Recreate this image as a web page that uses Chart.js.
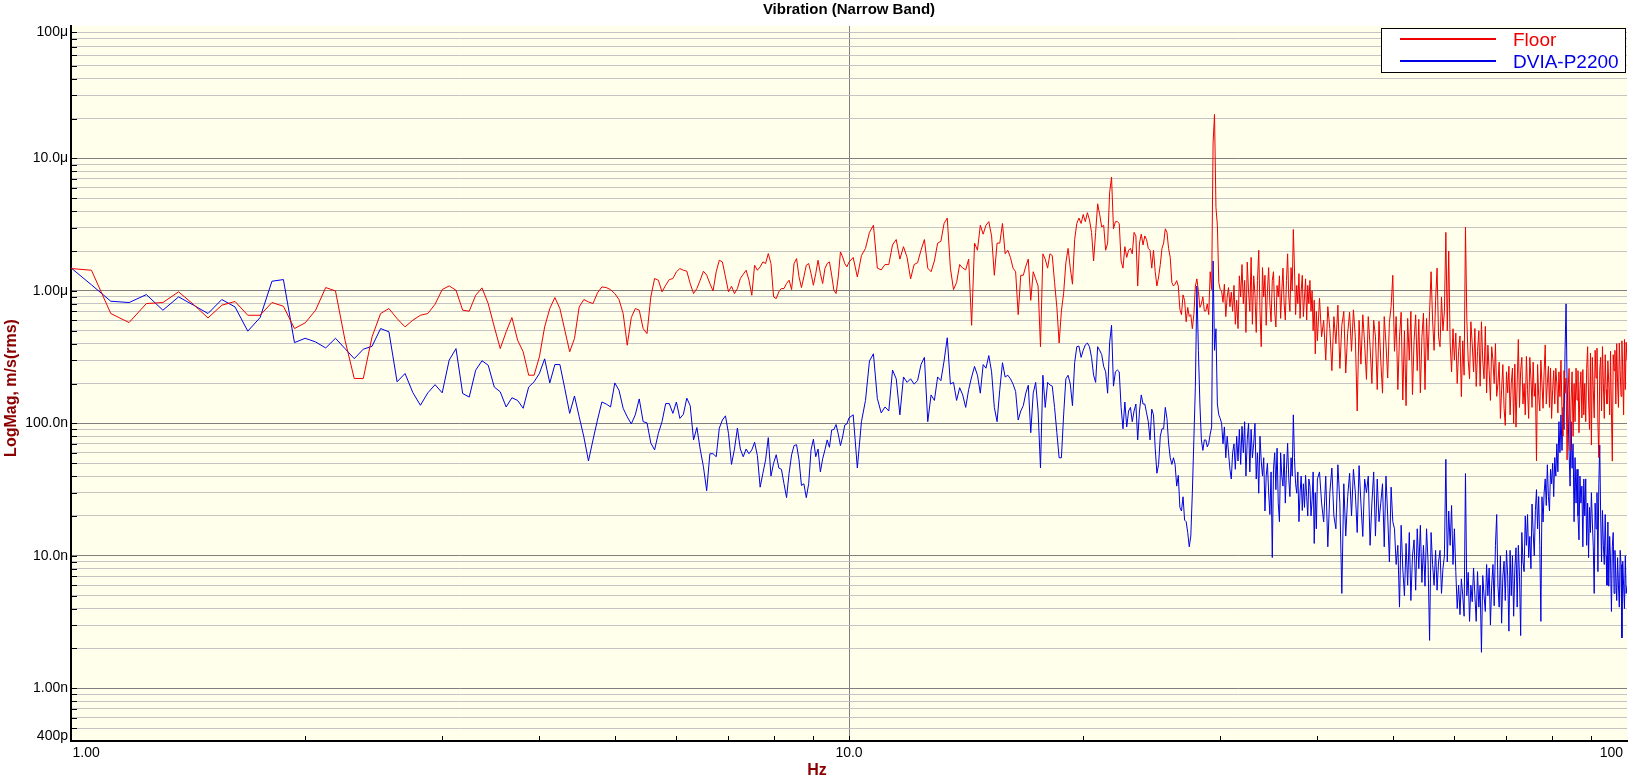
<!DOCTYPE html>
<html>
<head>
<meta charset="utf-8">
<title>Vibration (Narrow Band)</title>
<script src="https://cdn.jsdelivr.net/npm/chart.js@4.4.1/dist/chart.umd.min.js"></script>
<style>
  html, body { margin: 0; padding: 0; background: #fff; }
  #wrap { width: 1632px; height: 776px; }
</style>
</head>
<body>
<div id="wrap"><canvas id="vib" width="1632" height="776"></canvas></div>
<script>
// FFT bins: each band starts at bandStart with a fixed spacing (Hz)
const bandStart = [1.0, 10.125, 20.125, 30.125, 40.25];
const bandStep = [0.0625, 0.125, 0.125, 0.125, 0.25];

// Floor, nm/s rms
const floorBand1 = [
  1476, 1432, 675, 577, 803, 817, 984, 789, 625, 780, 832, 655, 655, 817, 766, 520,
  574, 715, 1060, 1000, 425, 218, 218, 450, 675, 736, 618, 535, 601, 655, 675, 794,
  1023, 1091, 1012, 715, 703, 927, 1054, 803, 535, 367, 491, 629, 425, 347, 231, 231,
  318, 535, 736, 891, 736, 505, 347, 437, 757, 861, 826, 803, 966, 1072, 1060, 1023,
  955, 861, 675, 389, 629, 736, 715, 520, 476, 901, 1240, 1205, 984, 1104, 1218, 1240,
  1393, 1476, 1432, 1409, 1137, 955, 1042, 1205, 1409, 1315, 1137, 1000, 1393, 1705, 1656, 1277,
  984, 1084, 955, 1042, 1240, 1337, 1432, 1205, 927, 1563, 1432, 1518, 1656, 1610, 1914, 1610,
  901, 875, 984, 1042, 1042, 1137, 1205, 1023, 1610, 1754, 1277, 1060, 1277, 1563, 1610, 1352,
  1104, 1352, 1705, 1352, 1137, 1476, 1610, 1656, 1315, 1012, 955, 1277, 1971, 1807, 1610, 1518,
  1650
];
const floorBand2 = [
  1790, 1274, 1849, 2094, 2767, 3133, 1486, 1442,
  1581, 1581, 2224, 2443, 1738, 2158, 1791, 1233,
  1581, 1633, 2028, 2443, 1486, 1396, 1683, 2296,
  2366, 3231, 3548, 1486, 1023, 1159, 1581, 1486,
  1442, 1738, 550, 2296, 2028, 3133, 2681, 3133,
  3334, 2600, 1312, 2296, 2296, 3231, 1905, 2028,
  1791, 1486, 1396, 662, 1312, 1312, 1535, 1738,
  849, 1396, 1233, 1089, 379, 1905, 1738, 1486,
  1905, 1849, 1159, 750, 404, 705, 962, 1633,
  2094, 1486, 1124, 2443, 3231, 3548, 3231, 3775
];
const floorBand3 = [
  3334, 3895, 3440, 2767, 1683, 2767, 4548, 3775,
  3040, 3133, 2028, 2296, 5478, 7244, 2944, 3334,
  3334, 3231, 1683, 1486, 2158, 1791, 2028, 2094,
  1905, 2767, 2600, 1089, 2296, 2681, 2224, 2600,
  2443, 2094, 2028, 1486, 2028, 1396, 1089, 1274,
  1581, 2094, 2296, 2944, 2767, 2094, 1791, 1159,
  1089, 1124, 1196, 1089, 727, 662, 933, 849,
  585, 750, 642, 662, 518, 662, 1089, 1233,
  992, 750, 798, 904, 705, 705, 798, 662,
  1396, 1023, 13060, 21480, 4276, 3133, 1159, 1023
];
const floorBand4 = [
  1000, 820, 1124, 640, 900, 1060, 760, 980,
  700, 1100, 560, 850, 520, 1300, 900, 1581,
  800, 1200, 486, 1650, 1000, 700, 1791, 560,
  1300, 950, 486, 1200, 2028, 700, 379, 1500,
  900, 1312, 550, 1000, 1500, 800, 585, 1200,
  1396, 700, 534, 1100, 900, 1300, 620, 1000,
  1486, 800, 603, 1200, 1905, 900, 700, 1500,
  1000, 2908, 1486, 662, 1100, 800, 1350, 620,
  1000, 1312, 640, 900, 1233, 603, 1100, 800,
  1200, 700, 1000, 500, 850, 335, 700, 420
];
const floorBand5 = [
  880, 450, 600, 300, 760, 520, 250, 640,
  400, 780, 260, 550, 700, 240, 480, 690,
  350, 720, 450, 124, 600, 280, 660, 400,
  215, 640, 380, 200, 600, 450, 180, 590,
  300, 169, 640, 400, 220, 580, 760, 1312,
  350, 640, 180, 450, 690, 150, 500, 136,
  620, 300, 700, 165, 420, 660, 250, 610,
  170, 450, 680, 180, 620, 300, 700, 1396,
  600, 356, 850, 1486, 450, 379, 900, 500,
  700, 2767, 500, 2000, 400, 245, 518, 300,
  480, 200, 350, 457, 159, 420, 231, 3036,
  600, 300, 217, 585, 400, 245, 520, 190,
  350, 500, 191, 585, 300, 217, 540, 170,
  390, 250, 149, 379, 300, 200, 400, 160,
  200, 290, 109, 180, 278, 130, 96.6, 245,
  170, 270, 116, 200, 261, 100, 280, 93.7,
  200, 430, 132, 250, 315, 140, 200, 116,
  320, 180, 109, 315, 220, 132, 290, 160,
  200, 52, 278, 160, 124, 300, 200, 130,
  245, 391, 140, 200, 270, 132, 261, 109,
  180, 250, 140, 261, 200, 120, 245, 159,
  300, 120, 80, 250, 169, 220, 53, 180,
  260, 62.5, 150, 245, 80, 200, 103, 261,
  150, 250, 85, 180, 245, 110, 255, 116,
  200, 103, 260, 379, 150, 90, 340, 68.6,
  315, 180, 110, 356, 220, 370, 100, 55.2,
  250, 315, 124, 380, 200, 109, 330, 180,
  140, 296, 200, 116, 350, 120, 51.9, 330,
  250, 356, 140, 400, 200, 132, 404, 250,
  160, 420, 250, 116, 430, 180, 410, 300
];

// DVIA-P2200, nm/s rms
const dviaBand1 = [
  1493, 1111, 836, 817, 938, 715, 901, 780, 675, 861, 757, 497, 629, 1183, 1218, 407,
  439, 412, 371, 439, 367, 308, 363, 382, 520, 491, 206, 238, 171, 137, 170, 196,
  170, 300, 367, 168, 158, 252, 297, 275, 188, 173, 133, 156, 149, 130, 188, 206,
  238, 307, 202, 278, 278, 183, 119, 161, 112, 79, 52, 75, 106, 145, 140, 133,
  202, 178, 130, 112, 99, 116, 153, 103, 101, 71, 63, 84, 103, 141, 141, 119,
  145, 109, 117, 155, 136, 75, 93, 64, 47, 31, 59, 59, 56, 92, 106, 114,
  84, 49, 64, 92, 64, 56, 64, 59, 63, 72, 57, 33, 42, 53, 78, 40,
  50, 58, 46, 45, 35, 27.5, 42, 58, 68, 69, 53, 34, 35, 27.5, 35, 63,
  76, 56, 64, 43, 54, 63, 75, 66, 89, 90, 98, 83, 68, 79, 97, 99,
  110
];
const dviaBand2 = [
  116, 46, 103, 149, 296, 335, 154, 120,
  133, 124, 253, 217, 116, 224, 204, 217,
  198, 210, 278, 315, 103, 164, 149, 224,
  210, 296, 443, 198, 204, 149, 186, 164,
  132, 180, 224, 269, 231, 169, 278, 261,
  325, 245, 132, 103, 180, 287, 224, 231,
  217, 198, 174, 106, 124, 136, 169, 194,
  85, 169, 204, 124, 46, 231, 132, 204,
  195, 191, 132, 85, 55, 55, 116, 217,
  231, 198, 136, 287, 379, 383, 315, 356
];
const dviaBand3 = [
  391, 404, 379, 315, 231, 204, 379, 356,
  331, 269, 245, 169, 404, 550, 191, 245,
  253, 245, 132, 91, 145, 94, 124, 132,
  103, 124, 140, 75, 124, 164, 140, 140,
  120, 103, 75, 128, 116, 65, 42, 49,
  80, 91, 91, 132, 109, 71, 55, 49,
  55, 49, 33.6, 40.5, 23.2, 21.8, 27.9, 18.6,
  18.1, 15.0, 11.7, 14.1, 29.7, 75, 191, 1089,
  356, 140, 75, 62.5, 75, 75, 66.5, 70.8,
  82.7, 94, 1683, 356, 518, 140, 116, 109
];
const dviaBand4 = [
  100, 70, 94, 55, 80, 60, 45, 38,
  60, 70, 45, 80, 52, 90, 49, 95,
  60, 103, 40, 75, 100, 43, 90, 55,
  70, 100, 38, 60, 29.7, 80, 51.9, 40,
  55, 21.8, 40, 50, 30, 20.5, 43, 9.7,
  45, 60, 31.6, 65, 25, 18.1, 60, 40,
  33.6, 58.7, 25, 45, 70.8, 38.1, 28, 55,
  40, 116, 55.2, 35, 29.7, 43, 18.1, 30,
  40, 22, 35, 23.2, 40.5, 28, 20, 38,
  33.6, 20, 26.2, 43, 12.4, 30, 16, 38.1
];
const dviaBand5 = [
  43, 25, 18, 40, 11.7, 30, 46, 20,
  16, 48.7, 25, 5.2, 35, 14.1, 28, 42,
  20, 45, 30, 15, 48, 25, 14, 38,
  30, 40, 12, 25, 43, 14.1, 38, 18.1,
  25, 35, 11.7, 40, 20, 9, 33, 18.1,
  16, 8.6, 12, 4.1, 17, 8, 5, 12.4,
  6, 15, 4.6, 10, 13.2, 5.5, 16, 8,
  17, 6.3, 12, 5.9, 16, 9, 2.3, 15,
  8.6, 6, 11, 5.5, 9, 11.0, 5.2, 8,
  10, 53.5, 9, 21.8, 12, 24, 8.6, 16,
  7.6, 4, 6, 3.6, 6.7, 5, 3.5, 41.8,
  5, 7.5, 3.2, 6, 4.5, 8.1, 5, 3.2,
  7.6, 4.1, 6, 1.87, 7.1, 5, 3.8, 8.6,
  5, 8.1, 3, 6, 8.6, 4.2, 12, 20.5,
  6, 4.1, 10, 3.1, 7, 9.1, 4.6, 11,
  7, 2.7, 11, 5, 10, 3.5, 8, 11.5,
  4.1, 12, 7, 2.5, 15, 9, 7.6, 20,
  12, 20.5, 9.7, 14, 8, 24.6, 15, 10,
  22, 31.6, 16, 28, 12, 3.2, 27.9, 18,
  30, 38.1, 24, 48.7, 28, 21.8, 45, 35,
  50, 28, 55.2, 40, 70, 43.1, 103, 60,
  116, 62.5, 132, 90, 356, 798, 200, 116,
  60, 33.6, 103, 45.8, 70, 18.1, 55.2, 25,
  45, 20, 13.2, 40, 25, 33.6, 11.7, 38,
  20, 38.1, 12, 25, 9.7, 23.2, 15, 30,
  18, 11.7, 5.2, 25, 16, 30, 7.6, 35,
  68.6, 20, 9, 22, 12, 8.6, 20.5, 10,
  6, 18, 5.9, 14, 9, 3.8, 11.7, 15,
  5.2, 11, 7, 4.6, 9.7, 6, 4.1, 11,
  8.6, 2.4, 9.1, 6, 4, 10, 5.2, 5.9
];

const seriesNames = ['Floor', 'DVIA-P2200'];
const seriesColors = ['#ee0000', '#0000e6'];

// axis labels (values in m/s and Hz)
const yLabelVals = [1e-4, 1e-5, 1e-6, 1e-7, 1e-8, 1e-9, 4e-10];
const yLabelText = ['100\u03bc', '10.0\u03bc', '1.00\u03bc', '100.0n', '10.0n', '1.00n', '400p'];
const xLabelVals = [1, 10, 100];
const xLabelText = ['1.00', '10.0', '100'];

const plotBg = '#ffffeb';
const fontFam = '"Liberation Sans", Arial, sans-serif';

function toPoints(bands) {
  const pts = [];
  bands.forEach((vals, b) => {
    vals.forEach((v, i) => {
      pts.push({ x: bandStart[b] + i * bandStep[b], y: v * 1e-9 });
    });
  });
  return pts;
}

// grid values: 1..9 per decade
const yGrid = [];
for (let d = -10; d <= -5; d++) {
  for (let k = 1; k <= 9; k++) {
    const v = k * Math.pow(10, d);
    if (v > 4.0001e-10 && v < 0.9999e-4) yGrid.push(v);
  }
}
const xGrid = [];
for (let d = 0; d <= 1; d++) {
  for (let k = 1; k <= 9; k++) xGrid.push(k * Math.pow(10, d));
}
xGrid.push(100);

function isDecade(v) {
  const l = Math.log10(v);
  return Math.abs(l - Math.round(l)) < 1e-6;
}

const decor = {
  id: 'decor',
  beforeDraw(chart) {
    const { ctx, chartArea: a } = chart;
    ctx.save();
    ctx.fillStyle = '#ffffff';
    ctx.fillRect(0, 0, chart.width, chart.height);
    ctx.fillStyle = plotBg;
    ctx.fillRect(a.left, a.top, a.right - a.left, a.bottom - a.top);
    ctx.restore();
  },
  afterDraw(chart) {
    const { ctx, chartArea: a } = chart;
    const x = chart.scales.x, y = chart.scales.y;
    ctx.save();

    // small inward ticks
    ctx.strokeStyle = '#000';
    ctx.lineWidth = 1;
    ctx.beginPath();
    yGrid.forEach(v => {
      const py = Math.round(y.getPixelForValue(v)) + 0.5;
      ctx.moveTo(a.left, py);
      ctx.lineTo(a.left + 6, py);
    });
    xGrid.forEach(v => {
      if (v === 1 || v === 100) return;
      const px = Math.round(x.getPixelForValue(v)) + 0.5;
      ctx.moveTo(px, a.bottom);
      ctx.lineTo(px, a.bottom - 5);
    });
    ctx.stroke();

    // tick labels
    ctx.fillStyle = '#000';
    ctx.font = '14px ' + fontFam;
    ctx.textAlign = 'right';
    ctx.textBaseline = 'middle';
    yLabelVals.forEach((v, i) => {
      let py = y.getPixelForValue(v);
      py = Math.min(Math.max(py, a.top + 6), a.bottom - 5);
      ctx.fillText(yLabelText[i], a.left - 3, py);
    });
    xLabelVals.forEach((v, i) => {
      const px = x.getPixelForValue(v);
      ctx.textAlign = i === 0 ? 'left' : (i === xLabelVals.length - 1 ? 'right' : 'center');
      const off = i === 0 ? 1.5 : (i === xLabelVals.length - 1 ? -4 : 0);
      ctx.fillText(xLabelText[i], px + off, a.bottom + 12);
    });

    // titles
    ctx.fillStyle = '#000';
    ctx.font = 'bold 15px ' + fontFam;
    ctx.textAlign = 'center';
    ctx.textBaseline = 'alphabetic';
    ctx.fillText('Vibration (Narrow Band)', (a.left + a.right) / 2, 14);

    ctx.fillStyle = '#8b0000';
    ctx.font = 'bold 16px ' + fontFam;
    ctx.fillText('Hz', chart.width / 2 + 1, 775);
    ctx.save();
    ctx.translate(12, 388);
    ctx.rotate(-Math.PI / 2);
    ctx.textBaseline = 'middle';
    ctx.fillText('LogMag, m/s(rms)', 0, 0);
    ctx.restore();

    // legend box
    const lx = 1381.5, ly = 28.5, lw = 244, lh = 44;
    ctx.fillStyle = '#fff';
    ctx.fillRect(lx, ly, lw, lh);
    ctx.strokeStyle = '#000';
    ctx.lineWidth = 1;
    ctx.strokeRect(lx, ly, lw, lh);
    ctx.font = '19px ' + fontFam;
    ctx.textAlign = 'left';
    ctx.textBaseline = 'alphabetic';
    chart.data.datasets.forEach((ds, i) => {
      const ry = 39 + i * 22;
      ctx.strokeStyle = ds.borderColor;
      ctx.lineWidth = 2;
      ctx.beginPath();
      ctx.moveTo(1400, ry);
      ctx.lineTo(1496, ry);
      ctx.stroke();
      ctx.fillStyle = ds.borderColor;
      ctx.fillText(ds.label, 1513, ry + 6.5);
    });

    ctx.restore();
  }
};

new Chart(document.getElementById('vib'), {
  type: 'line',
  data: {
    datasets: [
      {
        label: seriesNames[0],
        data: toPoints([floorBand1, floorBand2, floorBand3, floorBand4, floorBand5]),
        borderColor: seriesColors[0],
        borderWidth: 1,
        pointRadius: 0,
        tension: 0,
        fill: false
      },
      {
        label: seriesNames[1],
        data: toPoints([dviaBand1, dviaBand2, dviaBand3, dviaBand4, dviaBand5]),
        borderColor: seriesColors[1],
        borderWidth: 1,
        pointRadius: 0,
        tension: 0,
        fill: false
      }
    ]
  },
  options: {
    responsive: false,
    animation: false,
    devicePixelRatio: 1,
    layout: { padding: { left: 0, right: 5, top: 26, bottom: 0 } },
    plugins: {
      legend: { display: false },
      title: { display: false },
      tooltip: { enabled: false }
    },
    scales: {
      x: {
        type: 'logarithmic',
        min: 1,
        max: 100,
        afterBuildTicks: scale => { scale.ticks = xGrid.map(v => ({ value: v })); },
        afterFit: scale => { scale.height = 35; },
        ticks: { display: false },
        grid: {
          drawTicks: false,
          color: c => (c.tick && Math.abs(c.tick.value - 10) < 1e-9) ? '#808080' : 'rgba(0,0,0,0)'
        },
        border: { display: true, color: '#000', width: 2 }
      },
      y: {
        type: 'logarithmic',
        min: 4e-10,
        max: 1e-4,
        afterBuildTicks: scale => { scale.ticks = yGrid.map(v => ({ value: v })); },
        afterFit: scale => { scale.width = 71; },
        ticks: { display: false },
        grid: {
          drawTicks: false,
          color: c => (c.tick && isDecade(c.tick.value)) ? '#808080' : '#c4c4c4'
        },
        border: { display: true, color: '#000', width: 2 }
      }
    }
  },
  plugins: [decor]
});
</script>
</body>
</html>
